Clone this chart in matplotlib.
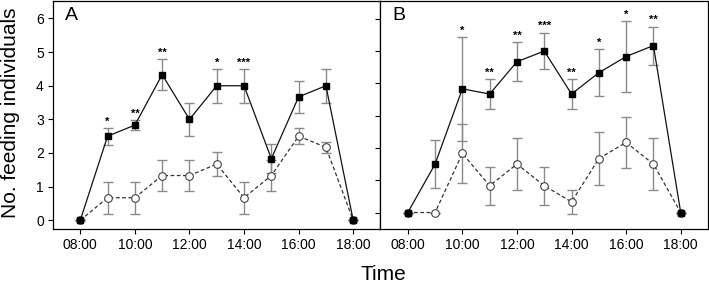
import matplotlib
matplotlib.use("Agg")
import matplotlib.pyplot as plt

plt.rcParams["font.family"] = ["Liberation Sans", "DejaVu Sans"]

hours = [8, 9, 10, 11, 12, 13, 14, 15, 16, 17, 18]
tick_hours = [8, 10, 12, 14, 16, 18]
tick_labels = ["08:00", "10:00", "12:00", "14:00", "16:00", "18:00"]

# panel A
a_solid = [0, 2.5, 2.83, 4.33, 3.0, 4.0, 4.0, 1.83, 3.67, 4.0, 0]
a_solid_err = [0, 0.25, 0.15, 0.47, 0.5, 0.5, 0.5, 0.43, 0.47, 0.5, 0]
a_open = [0, 0.67, 0.67, 1.33, 1.33, 1.67, 0.67, 1.33, 2.5, 2.17, 0]
a_open_err = [0, 0.47, 0.47, 0.45, 0.45, 0.36, 0.47, 0.45, 0.24, 0.17, 0]
a_stars = ["", "*", "**", "**", "", "*", "***", "", "", "", ""]

# panel B
b_solid = [0, 1.5, 3.83, 3.67, 4.67, 5.0, 3.67, 4.33, 4.83, 5.17, 0]
b_solid_err = [0, 0.74, 1.6, 0.45, 0.6, 0.57, 0.45, 0.73, 1.1, 0.59, 0]
b_open = [0, 0, 1.83, 0.83, 1.5, 0.83, 0.33, 1.67, 2.17, 1.5, 0]
b_open_err = [0, 0, 0.92, 0.59, 0.8, 0.59, 0.37, 0.83, 0.78, 0.8, 0]
b_stars = ["", "", "*", "**", "**", "***", "**", "*", "*", "**", ""]

panels = [
    ("A", a_solid, a_solid_err, a_open, a_open_err, a_stars, (-0.26, 6.52)),
    ("B", b_solid, b_solid_err, b_open, b_open_err, b_stars, (-0.51, 6.55)),
]

fig = plt.figure(figsize=(7.09, 2.85), dpi=100)
left, right = 53 / 709, 708 / 709
bottom, top = (285 - 229) / 285, (285 - 1) / 285
w = (right - left) / 2

for i, (lab, s, se, o, oe, stars, ylim) in enumerate(panels):
    ax = fig.add_axes([left + i * w, bottom, w, top - bottom])
    ax.errorbar(hours, o, yerr=oe, fmt="none", ecolor="#8a8a8a", elinewidth=1,
                capsize=3.5, capthick=1, zorder=1)
    ax.errorbar(hours, s, yerr=se, fmt="none", ecolor="#8a8a8a", elinewidth=1,
                capsize=3.5, capthick=1, zorder=1)
    ax.plot(hours, o, ls=(0, (3, 2)), color="#333333", lw=0.9, marker="o",
            ms=5.5, mfc="white", mec="#444444", mew=0.8, zorder=2)
    ax.plot(hours, s, ls="-", color="#111111", lw=0.9, marker="s",
            ms=5, mfc="black", mec="black", zorder=3)
    for h, v, e, st in zip(hours, s, se, stars):
        if st:
            ax.annotate(st, (h, v + e), xytext=(0, 1), textcoords="offset points",
                        ha="center", va="bottom", fontsize=8, fontweight="bold")
    ax.set_xlim(7, 19)
    ax.set_ylim(*ylim)
    ax.set_xticks(tick_hours)
    ax.set_xticklabels(tick_labels, fontsize=10)
    ax.set_yticks(range(7))
    if i == 0:
        ax.set_yticklabels([str(k) for k in range(7)], fontsize=10)
    else:
        ax.set_yticklabels([])
    ax.tick_params(direction="out", length=3.6, width=0.8, pad=3)
    for sp in ax.spines.values():
        sp.set_linewidth(0.9)
    ax.text(0.035, 0.975, lab, transform=ax.transAxes, ha="left", va="top",
            fontsize=14)

fig.text(0.015, 172 / 285, "No. feeding individuals", rotation=90,
         ha="center", va="center", fontsize=15)
fig.text(383 / 709, 10 / 285, "Time", ha="center", va="center", fontsize=15)

fig.savefig("out.png", dpi=100)
